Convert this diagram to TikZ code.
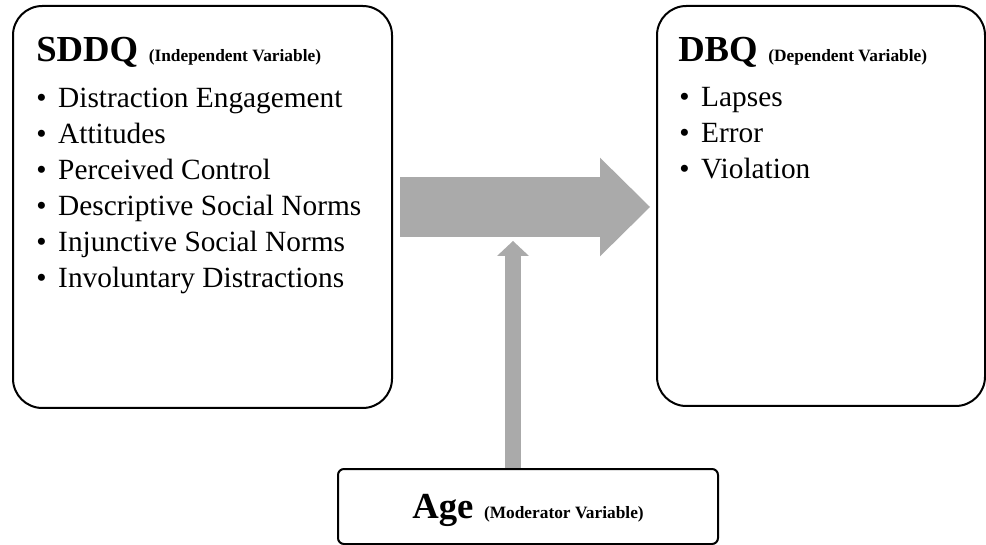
\documentclass[tikz,border=0pt]{standalone}
\usepackage{fontspec}
\setmainfont{Liberation Serif}
\usetikzlibrary{arrows.meta}
\definecolor{arrowgray}{RGB}{170,170,170}
\newcommand{\headfont}{\fontsize{27.5}{30}\selectfont\bfseries}
\newcommand{\subfont}{\fontsize{13}{15}\selectfont\bfseries}
\newcommand{\itemfont}{\fontsize{22}{26}\selectfont}
\newcommand{\bul}{\makebox[16.5pt][l]{\textbullet}}

\begin{document}
\begin{tikzpicture}[x=.75pt,y=-.75pt,
  box/.style={draw, line width=1.5pt, rounded corners=22pt, inner sep=0pt},
  item/.style={anchor=base west, inner sep=0pt, font=\itemfont},
  head/.style={anchor=base west, inner sep=0pt},
  bigarrow/.style={draw=arrowgray, line width=45pt, shorten <=5.25pt, shorten >=4.5pt,
    -{Triangle[length=37.5pt, width=74pt, line width=0pt]}},
  modarrow/.style={draw=arrowgray, line width=12pt,
    -{Triangle[length=11.25pt, width=24pt, line width=0pt]}}]
\useasboundingbox (0,0) rectangle (986,545);
% boxes
\node [box, minimum width=284.25pt, minimum height=301.5pt] (sddq) at (202.5,207) {};
\node [box, minimum width=246pt, minimum height=300pt] (dbq) at (821,206) {};
\node [box, rounded corners=4.5pt, text depth=0pt, minimum width=285pt, minimum height=56.25pt] (age) at (528,506.5)
  {{\headfont Age}\hspace{8pt}{\subfont (Moderator Variable)}};
% headings
\node [head] (sddqhead) at (36,62) {{\headfont SDDQ}\hspace{8pt}{\subfont (Independent Variable)}};
\node [head] (dbqhead) at (678,62) {{\headfont DBQ}\hspace{8pt}{\subfont (Dependent Variable)}};
% items
\foreach \t [count=\i] in {Distraction Engagement, Attitudes, Perceived Control,
  Descriptive Social Norms, Injunctive Social Norms, Involuntary Distractions}
  \node [item] (sddq-\i) at (36,72+36*\i) {\bul\t};
\foreach \t [count=\i] in {Lapses, Error, Violation}
  \node [item] (dbq-\i) at (679,71+36*\i) {\bul\t};
% arrows
\draw [bigarrow] (sddq.east) -- (sddq.east -| dbq.west);
\coordinate (modtip) at (513,241);
\draw [modarrow] (age.north -| modtip) -- (modtip);
\end{tikzpicture}
\end{document}
